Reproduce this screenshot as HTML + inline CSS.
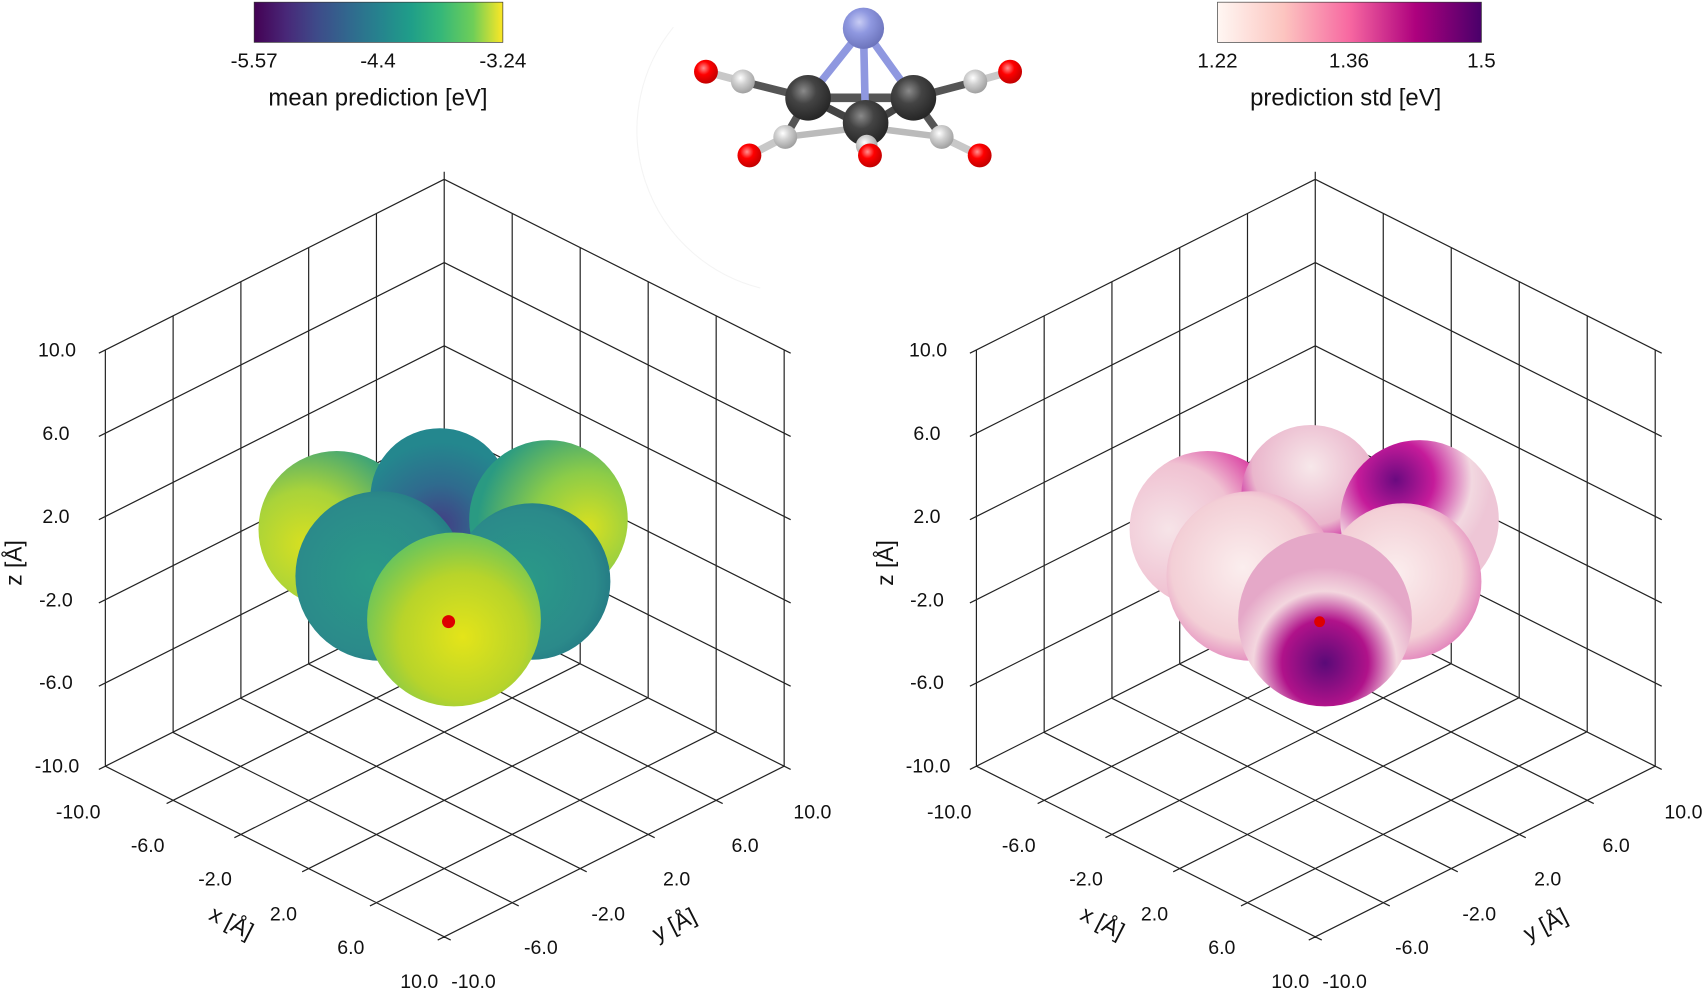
<!DOCTYPE html>
<html><head><meta charset="utf-8"><style>
html,body{margin:0;padding:0;background:#fff;}
svg{display:block;}
text{font-family:"Liberation Sans","DejaVu Sans",sans-serif;fill:#111;}
</style></head><body>
<svg width="1703" height="989" viewBox="0 0 1568 910" preserveAspectRatio="none" xmlns="http://www.w3.org/2000/svg">
<defs>
<linearGradient id="vir" x1="0" x2="1" y1="0" y2="0">
<stop offset="0" stop-color="#440154"/><stop offset="0.13" stop-color="#482878"/><stop offset="0.25" stop-color="#3e4a89"/><stop offset="0.38" stop-color="#31688e"/><stop offset="0.5" stop-color="#26828e"/><stop offset="0.63" stop-color="#1f9e89"/><stop offset="0.75" stop-color="#35b779"/><stop offset="0.88" stop-color="#6ece58"/><stop offset="1" stop-color="#fde725"/></linearGradient>
<linearGradient id="rdpu" x1="0" x2="1" y1="0" y2="0">
<stop offset="0" stop-color="#fff7f3"/><stop offset="0.25" stop-color="#fcc5c0"/><stop offset="0.5" stop-color="#f768a1"/><stop offset="0.75" stop-color="#ae017e"/><stop offset="1" stop-color="#49006a"/></linearGradient>
<radialGradient id="gy" cx="0.55" cy="0.6" r="0.6"><stop offset="0" stop-color="#e4e419"/><stop offset="0.6" stop-color="#b8d42a"/><stop offset="1" stop-color="#6cc55a"/></radialGradient>
<radialGradient id="gyl" cx="0.3" cy="0.6" r="0.7"><stop offset="0" stop-color="#d8e020"/><stop offset="0.5" stop-color="#a9d33a"/><stop offset="1" stop-color="#3aa27a"/></radialGradient>
<radialGradient id="gyr" cx="0.75" cy="0.55" r="0.7"><stop offset="0" stop-color="#d8e020"/><stop offset="0.5" stop-color="#8ccc48"/><stop offset="1" stop-color="#2a9a82"/></radialGradient>
<radialGradient id="gt" cx="0.45" cy="0.5" r="0.65"><stop offset="0" stop-color="#2a9a88"/><stop offset="0.7" stop-color="#2b8a8a"/><stop offset="1" stop-color="#1f6f80"/></radialGradient>
<radialGradient id="gtop" cx="0.5" cy="0.7" r="0.6"><stop offset="0" stop-color="#433d84"/><stop offset="0.5" stop-color="#2f6b8e"/><stop offset="1" stop-color="#24878e"/></radialGradient>
<radialGradient id="pw" cx="0.45" cy="0.45" r="0.6"><stop offset="0" stop-color="#fbeeee"/><stop offset="0.7" stop-color="#f3cfd6"/><stop offset="1" stop-color="#e07ab8"/></radialGradient>
<radialGradient id="pm" cx="0.5" cy="0.75" r="0.55"><stop offset="0" stop-color="#5a0a78"/><stop offset="0.45" stop-color="#b0128a"/><stop offset="0.75" stop-color="#f3d6de"/><stop offset="1" stop-color="#e5a8c8"/></radialGradient>
<radialGradient id="pl" cx="0.25" cy="0.5" r="0.7"><stop offset="0" stop-color="#f6e4e8"/><stop offset="0.6" stop-color="#f0c2d2"/><stop offset="1" stop-color="#d8349e"/></radialGradient>
<radialGradient id="ptop" cx="0.5" cy="0.3" r="0.6"><stop offset="0" stop-color="#f7e8ea"/><stop offset="0.7" stop-color="#eab6cc"/><stop offset="1" stop-color="#c8149a"/></radialGradient>
<radialGradient id="pbr" cx="0.35" cy="0.25" r="0.6"><stop offset="0" stop-color="#6a0a80"/><stop offset="0.4" stop-color="#c51b9a"/><stop offset="0.8" stop-color="#f2d8e0"/><stop offset="1" stop-color="#eec6d6"/></radialGradient>
<radialGradient id="atomN" cx="0.4" cy="0.35" r="0.7"><stop offset="0" stop-color="#c8ccf4"/><stop offset="0.4" stop-color="#8f98e0"/><stop offset="1" stop-color="#6870b8"/></radialGradient>
<radialGradient id="atomC" cx="0.4" cy="0.35" r="0.7"><stop offset="0" stop-color="#8a8a8a"/><stop offset="0.4" stop-color="#444"/><stop offset="1" stop-color="#222"/></radialGradient>
<radialGradient id="atomH" cx="0.4" cy="0.35" r="0.7"><stop offset="0" stop-color="#fff"/><stop offset="0.4" stop-color="#d0d0d0"/><stop offset="1" stop-color="#9a9a9a"/></radialGradient>
<radialGradient id="atomO" cx="0.4" cy="0.35" r="0.7"><stop offset="0" stop-color="#ff9090"/><stop offset="0.4" stop-color="#f00"/><stop offset="1" stop-color="#b00"/></radialGradient>
<path id="grid" stroke="#222" stroke-width="1.1" fill="none" d="
M97 322 L97 705 M159.4 290.6 L159.4 673.6 M221.8 259.2 L221.8 642.2 M284.2 227.8 L284.2 610.8 M346.6 196.4 L346.6 579.4 M409 165 L409 548
M722 322 L722 705 M659.4 290.6 L659.4 673.6 M596.8 259.2 L596.8 642.2 M534.2 227.8 L534.2 610.8 M471.6 196.4 L471.6 579.4
M97 705 L409 548 M97 628.4 L409 471.4 M97 551.8 L409 394.8 M97 475.2 L409 318.2 M97 398.6 L409 241.6 M97 322 L409 165
M722 705 L409 548 M722 628.4 L409 471.4 M722 551.8 L409 394.8 M722 475.2 L409 318.2 M722 398.6 L409 241.6 M722 322 L409 165
M159.4 736.4 L471.4 579.4 M221.8 767.8 L533.8 610.8 M284.2 799.2 L596.2 642.2 M346.6 830.6 L658.6 673.6 M409 862 L722 705
M659.4 736.4 L346.4 579.4 M596.8 767.8 L283.8 610.8 M534.2 799.2 L221.2 642.2 M471.6 830.6 L158.6 673.6 M409 862 L97 705
M97 705 L91 708 M159.4 736.4 L153.4 739.4 M221.8 767.8 L215.8 770.8 M284.2 799.2 L278.2 802.2 M346.6 830.6 L340.6 833.6 M409 862 L403 865
M722 705 L728 708 M659.4 736.4 L665.4 739.4 M596.8 767.8 L602.8 770.8 M534.2 799.2 L540.2 802.2 M471.6 830.6 L477.6 833.6 M409 862 L415 865
M97 628.4 L91 631.4 M97 551.8 L91 554.8 M97 475.2 L91 478.2 M97 398.6 L91 401.6 M97 322 L91 325
M722 628.4 L728 631.4 M722 551.8 L728 554.8 M722 475.2 L728 478.2 M722 398.6 L728 401.6 M722 322 L728 325
M409 165 L409 158 M403 168 L409 165 L415 168"/>
</defs>
<use href="#grid"/>
<use href="#grid" transform="translate(802,0)"/>

<!-- left spheres -->
<g>
<circle cx="310" cy="487" r="72" fill="url(#gyl)"/>
<circle cx="405" cy="458" r="64" fill="url(#gtop)"/>
<circle cx="505" cy="478" r="73" fill="url(#gyr)"/>
<circle cx="350" cy="530" r="78" fill="url(#gt)"/>
<circle cx="490" cy="535" r="72" fill="url(#gt)"/>
<circle cx="418" cy="570" r="80" fill="url(#gy)"/>
<circle cx="413" cy="572" r="6" fill="#d00"/>
</g>
<!-- right spheres -->
<g>
<circle cx="1112" cy="487" r="72" fill="url(#pl)"/>
<circle cx="1207" cy="455" r="64" fill="url(#ptop)"/>
<circle cx="1307" cy="478" r="73" fill="url(#pbr)"/>
<circle cx="1152" cy="530" r="78" fill="url(#pw)"/>
<circle cx="1292" cy="535" r="72" fill="url(#pw)"/>
<circle cx="1220" cy="570" r="80" fill="url(#pm)"/>
<circle cx="1215" cy="572" r="5" fill="#d00"/>
</g>

<!-- colorbars -->
<rect x="234" y="2" width="229" height="37" fill="url(#vir)" stroke="#333" stroke-width="0.6"/>
<g font-size="19" text-anchor="middle">
<text x="234" y="62">-5.57</text><text x="348" y="62">-4.4</text><text x="463" y="62">-3.24</text>
<text x="348" y="97" font-size="22">mean prediction [eV]</text>
</g>
<rect x="1121" y="2" width="243" height="37" fill="url(#rdpu)" stroke="#333" stroke-width="0.6"/>
<g font-size="19" text-anchor="middle">
<text x="1121" y="62">1.22</text><text x="1242" y="62">1.36</text><text x="1364" y="62">1.5</text>
<text x="1239" y="97" font-size="22">prediction std [eV]</text>
</g>

<!-- molecule -->
<path d="M700 265 A150 150 0 0 1 620 25" stroke="#f4f4f4" fill="none"/>
<g stroke-linecap="round">
<line x1="650" y1="66" x2="684" y2="75" stroke="#c8c8c8" stroke-width="7"/>
<line x1="684" y1="75" x2="744" y2="90" stroke="#555" stroke-width="7"/>
<line x1="930" y1="66" x2="898" y2="75" stroke="#c8c8c8" stroke-width="7"/>
<line x1="898" y1="75" x2="841" y2="90" stroke="#555" stroke-width="7"/>
<line x1="690" y1="143" x2="723" y2="126" stroke="#c8c8c8" stroke-width="7"/>
<line x1="723" y1="126" x2="744" y2="90" stroke="#555" stroke-width="7"/>
<line x1="723" y1="126" x2="797" y2="117" stroke="#bbb" stroke-width="6"/>
<line x1="902" y1="143" x2="867" y2="126" stroke="#c8c8c8" stroke-width="7"/>
<line x1="867" y1="126" x2="841" y2="90" stroke="#555" stroke-width="7"/>
<line x1="867" y1="126" x2="797" y2="117" stroke="#bbb" stroke-width="6"/>
<line x1="744" y1="90" x2="841" y2="90" stroke="#555" stroke-width="8"/>
<line x1="744" y1="90" x2="797" y2="117" stroke="#444" stroke-width="7"/>
<line x1="841" y1="90" x2="797" y2="117" stroke="#444" stroke-width="7"/>
<line x1="795" y1="26" x2="744" y2="90" stroke="#8f98e0" stroke-width="7"/>
<line x1="795" y1="26" x2="841" y2="90" stroke="#8f98e0" stroke-width="7"/>
<line x1="795" y1="26" x2="797" y2="117" stroke="#8f98e0" stroke-width="7"/>
</g>
<circle cx="795" cy="26" r="19" fill="url(#atomN)"/>
<circle cx="650" cy="66" r="11" fill="url(#atomO)"/>
<circle cx="930" cy="66" r="11" fill="url(#atomO)"/>
<circle cx="684" cy="75" r="11" fill="url(#atomH)"/>
<circle cx="898" cy="75" r="11" fill="url(#atomH)"/>
<circle cx="744" cy="90" r="21" fill="url(#atomC)"/>
<circle cx="841" cy="90" r="21" fill="url(#atomC)"/>
<circle cx="723" cy="126" r="11" fill="url(#atomH)"/>
<circle cx="867" cy="126" r="11" fill="url(#atomH)"/>
<circle cx="797" cy="113" r="21" fill="url(#atomC)"/>
<circle cx="798" cy="134" r="10" fill="url(#atomH)"/>
<circle cx="690" cy="143" r="11" fill="url(#atomO)"/>
<circle cx="801" cy="143" r="11" fill="url(#atomO)"/>
<circle cx="902" cy="143" r="11" fill="url(#atomO)"/>

<g font-size="18">
<g text-anchor="end">
<text x="70" y="328">10.0</text><text x="64" y="405">6.0</text><text x="64" y="481">2.0</text><text x="67" y="558">-2.0</text><text x="67" y="634">-6.0</text><text x="73" y="711">-10.0</text>
<text x="872" y="328">10.0</text><text x="866" y="405">6.0</text><text x="866" y="481">2.0</text><text x="869" y="558">-2.0</text><text x="869" y="634">-6.0</text><text x="875" y="711">-10.0</text>
</g>
<g text-anchor="middle">
<text x="72" y="753">-10.0</text><text x="136" y="784">-6.0</text><text x="198" y="815">-2.0</text><text x="261" y="847">2.0</text><text x="323" y="878">6.0</text><text x="386" y="909">10.0</text>
<text x="436" y="909">-10.0</text><text x="498" y="878">-6.0</text><text x="560" y="847">-2.0</text><text x="623" y="815">2.0</text><text x="686" y="784">6.0</text><text x="748" y="753">10.0</text>
<text x="874" y="753">-10.0</text><text x="938" y="784">-6.0</text><text x="1000" y="815">-2.0</text><text x="1063" y="847">2.0</text><text x="1125" y="878">6.0</text><text x="1188" y="909">10.0</text>
<text x="1238" y="909">-10.0</text><text x="1300" y="878">-6.0</text><text x="1362" y="847">-2.0</text><text x="1425" y="815">2.0</text><text x="1488" y="784">6.0</text><text x="1550" y="753">10.0</text>
</g>
<g font-size="21" text-anchor="middle">
<text transform="translate(210,855) rotate(27)">x [Å]</text>
<text transform="translate(624,857) rotate(-27)">y [Å]</text>
<text transform="translate(20,518) rotate(-90)">z [Å]</text>
<text transform="translate(1012,855) rotate(27)">x [Å]</text>
<text transform="translate(1426,857) rotate(-27)">y [Å]</text>
<text transform="translate(822,518) rotate(-90)">z [Å]</text>
</g>
</g>
</svg>
</body></html>
